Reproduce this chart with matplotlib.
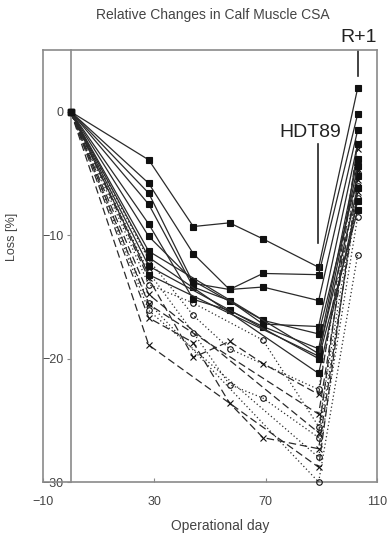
import numpy as np
import matplotlib
matplotlib.use("Agg")
import matplotlib.pyplot as plt

plt.rcParams['font.family'] = ['Liberation Sans', 'DejaVu Sans']

nan = np.nan
days = [0, 28, 44, 57, 69, 89, 103]

# squares, solid lines
square_series = [
    [0, -3.9, -9.3, -9.0, -10.3, -12.6, 1.9],
    [0, -5.8, -11.5, -14.4, -13.1, -13.2, -0.2],
    [0, -6.6, -13.9, -14.4, -14.2, -15.3, -1.5],
    [0, -7.5, -14.2, -15.3, -17.2, -17.4, -2.6],
    [0, -9.1, -15.2, -16.1, -17.4, -19.2, -3.8],
    [0, -10.1, -13.7, nan, -16.9, -18.0, -5.2],
    [0, -11.3, nan, nan, nan, -19.6, -6.2],
    [0, -11.8, nan, nan, nan, -21.2, -7.2],
    [0, -12.5, nan, nan, nan, -20.0, -8.0],
    [0, -13.2, nan, nan, nan, -19.8, -4.4],
]
# crosses, dashed lines
cross_series = [
    [0, -13.5, -19.9, -18.6, -20.4, -22.9, -3.0],
    [0, -16.7, -18.7, -23.6, -26.4, -27.3, -6.5],
    [0, -18.9, nan, nan, nan, -28.8, -5.5],
    [0, -14.8, nan, nan, nan, -26.0, -2.5],
    [0, -15.6, nan, nan, nan, -24.5, -4.8],
]
# circles, dotted lines
circle_series = [
    [0, -12.0, -16.5, -19.2, nan, -22.5, -5.0],
    [0, -13.0, -17.9, -22.1, -23.2, -26.4, -7.0],
    [0, -15.5, nan, nan, nan, -30.0, -11.6],
    [0, -14.0, -15.5, nan, -18.5, -25.5, -6.0],
    [0, -16.1, nan, nan, nan, -28.0, -8.5],
]

fig = plt.figure(figsize=(3.9, 5.38), dpi=100)
ax = fig.add_axes([0.110, 0.104, 0.857, 0.803])

lc = '#2a2a2a'

def plot_group(series, marker, ls, ms, mfc):
    for s in series:
        y = np.array(s, dtype=float)
        x = np.array(days, dtype=float)
        m = ~np.isnan(y)
        ax.plot(x[m], y[m], linestyle=ls, color=lc, lw=0.9, marker=marker,
                ms=ms, mfc=mfc, mec='#111111', mew=0.8, clip_on=False, zorder=3)

plot_group(circle_series, 'o', (0, (1, 2)), 4, 'none')
plot_group(cross_series, 'x', (0, (6, 3)), 5, 'none')
plot_group(square_series, 's', '-', 4.5, '#111111')

ax.set_xlim(-10, 110)
ax.set_ylim(-30, 5)

gray = '#8a8a8a'
for side in ['top', 'right', 'bottom']:
    ax.spines[side].set_color(gray)
    ax.spines[side].set_linewidth(1.2)
ax.spines['left'].set_position(('data', 0))
ax.spines['left'].set_color(gray)
ax.spines['left'].set_linewidth(1.2)
ax.plot([-10, -10], [-30, 5], color=gray, lw=1.2, clip_on=False, zorder=1)

ax.set_xticks([-10, 30, 70, 110])
ax.set_yticks([0, -10, -20, -30])
ax.tick_params(axis='x', direction='in', length=3, color=gray, labelsize=9,
               labelcolor='#444444', pad=10)
ax.tick_params(axis='y', direction='out', length=3, color=gray, labelsize=9,
               labelcolor='#444444', pad=2)

ax.set_xlabel('Operational day', fontsize=10, color='#444444', labelpad=10)
ax.xaxis.set_label_coords(0.53, -0.085)
fig.text(0.03, 0.56, 'Loss [%]', rotation=90, fontsize=9, color='#444444',
         ha='center', va='center')
fig.text(0.545, 0.972, 'Relative Changes in Calf Muscle CSA', fontsize=10,
         color='#444444', ha='center', va='center')

ax.text(103.3, 6.0, 'R+1', fontsize=14, color='#222222', ha='center', va='center',
        clip_on=False)
ax.plot([103, 103], [4.9, 2.9], color='#222222', lw=1.2, clip_on=False)
ax.text(85.9, -1.7, 'HDT89', fontsize=14, color='#222222', ha='center', va='center')
ax.plot([88.8, 88.8], [-2.6, -10.6], color='#222222', lw=1.2)

fig.savefig('out.png', dpi=100)
